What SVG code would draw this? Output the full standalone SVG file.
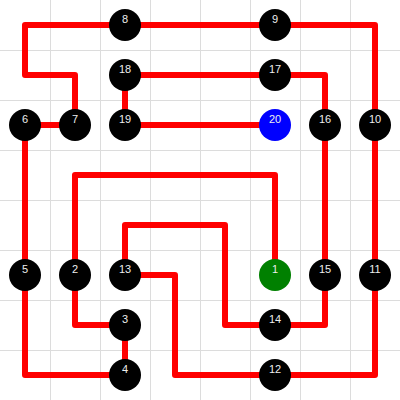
<svg xmlns="http://www.w3.org/2000/svg" width="400" height="400" viewBox="0 0 400 400">
<style>
.grid line{stroke:#dcdcdc;stroke-width:1}
.edges path{fill:none;stroke:#ff0000;stroke-width:6;stroke-linejoin:round}
.node circle{fill:#000}
.node text{font-family:"Liberation Sans",Arial,sans-serif;font-size:11px;fill:#eeeeee;text-anchor:middle}
</style>
<rect width="400" height="400" fill="#fff"/>
<g class="grid">
<line x1="50.5" y1="0" x2="50.5" y2="400"/><line x1="100.5" y1="0" x2="100.5" y2="400"/><line x1="150.5" y1="0" x2="150.5" y2="400"/><line x1="200.5" y1="0" x2="200.5" y2="400"/><line x1="250.5" y1="0" x2="250.5" y2="400"/><line x1="300.5" y1="0" x2="300.5" y2="400"/><line x1="350.5" y1="0" x2="350.5" y2="400"/>
<line x1="0" y1="50.5" x2="400" y2="50.5"/><line x1="0" y1="100.5" x2="400" y2="100.5"/><line x1="0" y1="150.5" x2="400" y2="150.5"/><line x1="0" y1="200.5" x2="400" y2="200.5"/><line x1="0" y1="250.5" x2="400" y2="250.5"/><line x1="0" y1="300.5" x2="400" y2="300.5"/><line x1="0" y1="350.5" x2="400" y2="350.5"/>
</g>
<g id="connectors" class="edges">
<path d="M275 275V175H75V275"/>
<path d="M75 275V325H125"/>
<path d="M125 325V375"/>
<path d="M125 375H25V275"/>
<path d="M25 275V125"/>
<path d="M25 125H75"/>
<path d="M75 125V75H25V25H125"/>
<path d="M125 25H275"/>
<path d="M275 25H375V125"/>
<path d="M375 125V275"/>
<path d="M375 275V375H275"/>
<path d="M275 375H175V275H125"/>
<path d="M125 275V225H225V325H275"/>
<path d="M275 325H325V275"/>
<path d="M325 275V125"/>
<path d="M325 125V75H275"/>
<path d="M275 75H125"/>
<path d="M125 75V125"/>
<path d="M125 125H275"/>
</g>
<g id="node1" class="node"><circle cx="275" cy="275" r="16" style="fill:#008000"/><text x="275" y="272.5">1</text></g>
<g id="node2" class="node"><circle cx="75" cy="275" r="16"/><text x="75" y="272.5">2</text></g>
<g id="node3" class="node"><circle cx="125" cy="325" r="16"/><text x="125" y="322.5">3</text></g>
<g id="node4" class="node"><circle cx="125" cy="375" r="16"/><text x="125" y="372.5">4</text></g>
<g id="node5" class="node"><circle cx="25" cy="275" r="16"/><text x="25" y="272.5">5</text></g>
<g id="node6" class="node"><circle cx="25" cy="125" r="16"/><text x="25" y="122.5">6</text></g>
<g id="node7" class="node"><circle cx="75" cy="125" r="16"/><text x="75" y="122.5">7</text></g>
<g id="node8" class="node"><circle cx="125" cy="25" r="16"/><text x="125" y="22.5">8</text></g>
<g id="node9" class="node"><circle cx="275" cy="25" r="16"/><text x="275" y="22.5">9</text></g>
<g id="node10" class="node"><circle cx="375" cy="125" r="16"/><text x="375" y="122.5">10</text></g>
<g id="node11" class="node"><circle cx="375" cy="275" r="16"/><text x="375" y="272.5">11</text></g>
<g id="node12" class="node"><circle cx="275" cy="375" r="16"/><text x="275" y="372.5">12</text></g>
<g id="node13" class="node"><circle cx="125" cy="275" r="16"/><text x="125" y="272.5">13</text></g>
<g id="node14" class="node"><circle cx="275" cy="325" r="16"/><text x="275" y="322.5">14</text></g>
<g id="node15" class="node"><circle cx="325" cy="275" r="16"/><text x="325" y="272.5">15</text></g>
<g id="node16" class="node"><circle cx="325" cy="125" r="16"/><text x="325" y="122.5">16</text></g>
<g id="node17" class="node"><circle cx="275" cy="75" r="16"/><text x="275" y="72.5">17</text></g>
<g id="node18" class="node"><circle cx="125" cy="75" r="16"/><text x="125" y="72.5">18</text></g>
<g id="node19" class="node"><circle cx="125" cy="125" r="16"/><text x="125" y="122.5">19</text></g>
<g id="node20" class="node"><circle cx="275" cy="125" r="16" style="fill:#0000ff"/><text x="275" y="122.5">20</text></g>
</svg>
